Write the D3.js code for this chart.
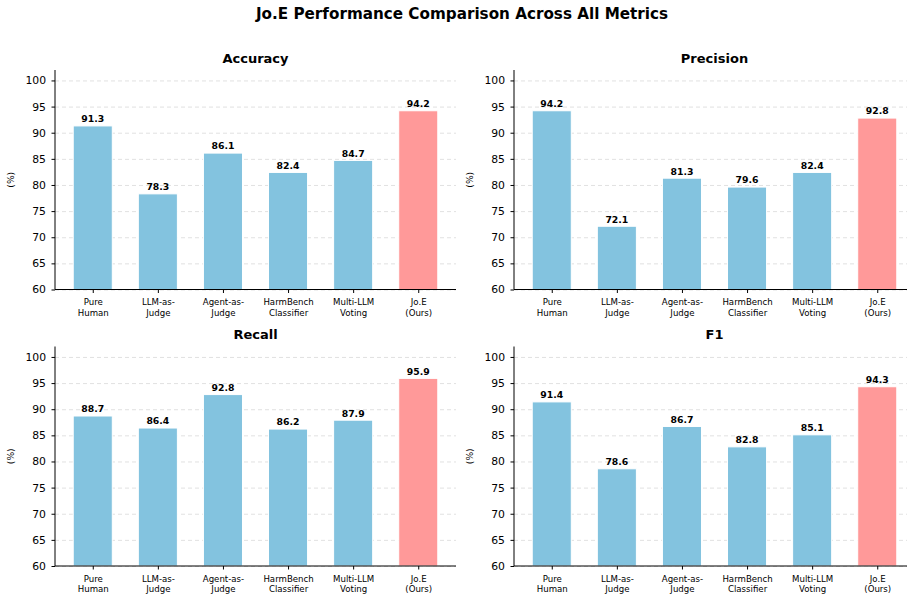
<!DOCTYPE html>
<html lang="en">
<head>
<meta charset="UTF-8">
<title>Jo.E Performance Comparison</title>
<script src="https://d3js.org/d3.v7.min.js"></script>
<style>
    body { margin: 0; background: #fff; font-family: "DejaVu Sans", sans-serif; }
    svg { display: block; }
    .grid line { stroke: #d9d9d9; stroke-dasharray: 4,3; stroke-width: 0.8; }
    .grid .domain { display: none; }
</style>
</head>
<body>
<div id="chart"></div>
<script>
    // Data
    const methods = ["Pure\nHuman", "LLM-as-\nJudge", "Agent-as-\nJudge", "HarmBench\nClassifier", "Multi-LLM\nVoting", "Jo.E\n(Ours)"];
    const metrics = ["Accuracy", "Precision", "Recall", "F1"];
    const accuracy = [91.3, 78.3, 86.1, 82.4, 84.7, 94.2];
    const precision = [94.2, 72.1, 81.3, 79.6, 82.4, 92.8];
    const recall = [88.7, 86.4, 92.8, 86.2, 87.9, 95.9];
    const f1 = [91.4, 78.6, 86.7, 82.8, 85.1, 94.3];
    const yTicks = [60, 65, 70, 75, 80, 85, 90, 95, 100];

    const seriesList = [accuracy, precision, recall, f1];

    const W = 907, H = 600;
    const svg = d3.select("#chart").append("svg")
        .attr("width", W)
        .attr("height", H);

    // Figure title
    svg.append("text")
        .attr("x", 462)
        .attr("y", 18.5)
        .attr("text-anchor", "middle")
        .style("font-size", "15.2px")
        .style("font-weight", "bold")
        .text("Jo.E Performance Comparison Across All Metrics");

    // Panel positions (left, top) of plot area
    const panels = [
        {x: 55, y: 70},
        {x: 514, y: 70},
        {x: 55, y: 346.5},
        {x: 514, y: 346.5}
    ];
    const pw = 401, ph = 219.5;

    const blue = "#83c3df", red = "#ff9999";

    panels.forEach((p, i) => {
        const values = seriesList[i];
        const g = svg.append("g").attr("transform", `translate(${p.x},${p.y})`);

        const x = d3.scaleLinear().domain([-0.58, 5.58]).range([0, pw]);
        const y = d3.scaleLinear().domain([60, 102]).range([ph, 0]);
        const bw = x(0.6) - x(0);

        // grid
        g.append("g")
            .attr("class", "grid")
            .call(d3.axisLeft(y).tickValues(yTicks).tickSize(-pw).tickFormat(""))
            .selectAll(".tick line").attr("stroke", "#d9d9d9");

        // bars
        g.selectAll(".bar")
            .data(values)
            .enter()
            .append("rect")
            .attr("class", "bar")
            .attr("x", (d, j) => x(j) - bw / 2)
            .attr("y", d => y(d))
            .attr("width", bw)
            .attr("height", d => y(60) - y(d))
            .attr("fill", (d, j) => j === values.length - 1 ? red : blue)
            .attr("stroke", "#fff")
            .attr("stroke-width", 1);

        // value labels
        g.selectAll(".val")
            .data(values)
            .enter()
            .append("text")
            .attr("x", (d, j) => x(j))
            .attr("y", d => y(d) - 3.6)
            .attr("text-anchor", "middle")
            .style("font-size", "9.3px")
            .style("font-weight", "bold")
            .text(d => d.toFixed(1));

        // y axis
        const yAxis = g.append("g")
            .call(d3.axisLeft(y).tickValues(yTicks).tickSize(3.5).tickPadding(5.5));
        yAxis.selectAll("text").style("font-size", "10.8px").attr("fill", "#000")
            .style("font-family", "DejaVu Sans");
        yAxis.selectAll("line").attr("stroke", "#000");
        yAxis.select(".domain").attr("stroke", "#000").attr("d", `M0,${ph}V0`);

        // x axis
        const xAxis = g.append("g")
            .attr("transform", `translate(0,${ph})`)
            .call(d3.axisBottom(x).tickValues(d3.range(methods.length)).tickSize(3.5).tickFormat(""));
        xAxis.selectAll("line").attr("stroke", "#000");
        xAxis.select(".domain").attr("stroke", "#000").attr("d", `M0,0H${pw}`);

        xAxis.selectAll(".tick").each(function(d) {
            const lines = methods[d].split("\n");
            const t = d3.select(this).append("text")
                .attr("text-anchor", "middle")
                .attr("fill", "#000")
                .style("font-size", "8.6px")
                .style("font-family", "DejaVu Sans");
            lines.forEach((l, k) => {
                t.append("tspan").attr("x", 0).attr("y", 15.5 + k * 10.8).text(l);
            });
        });

        // y label
        g.append("text")
            .attr("transform", `translate(-41,${ph / 2}) rotate(-90)`)
            .attr("text-anchor", "middle")
            .style("font-size", "9.2px")
            .text("(%)");

        // panel title
        g.append("text")
            .attr("x", pw / 2)
            .attr("y", -7.5)
            .attr("text-anchor", "middle")
            .style("font-size", "13px")
            .style("font-weight", "bold")
            .text(metrics[i]);
    });
</script>
</body>
</html>
